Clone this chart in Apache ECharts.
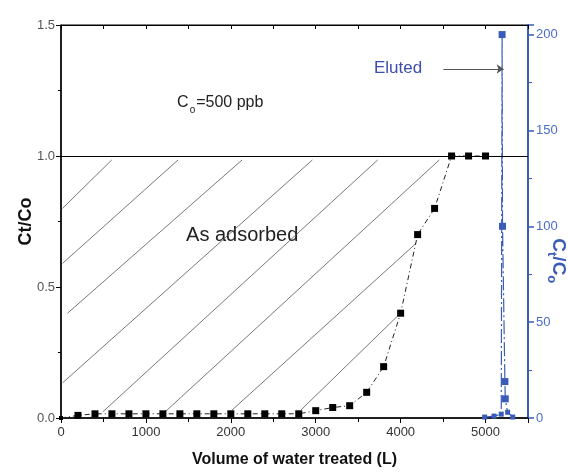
<!DOCTYPE html>
<html>
<head>
<meta charset="utf-8">
<script src="https://cdn.jsdelivr.net/npm/echarts@6/dist/echarts.min.js"></script>
<style>
  html, body { margin: 0; padding: 0; background: #fff; }
  #main { width: 568px; height: 476px; }
</style>
</head>
<body>
<div id="main"></div>
<script>
// 吸附穿透曲线 + 洗脱峰
var myChart = echarts.init(document.getElementById('main'));

var volume = [0, 200, 400, 600, 800, 1000, 1200, 1400, 1600, 1800, 2000, 2200, 2400, 2600, 2800,
  3000, 3200, 3400, 3600, 3800, 4000, 4200, 4400, 4600, 4800, 5000];
var ctco = [0, 0.01, 0.016, 0.016, 0.016, 0.016, 0.016, 0.016, 0.016, 0.016, 0.016, 0.016, 0.016, 0.016, 0.016,
  0.028, 0.04, 0.047, 0.098, 0.196, 0.40, 0.70, 0.80, 1.0, 1.0, 1.0];

// eluted peak (right axis)
var elutedVolume = [4990, 5100, 5185, 5195, 5200, 5228, 5232, 5260, 5320];
var elutedCtCo = [0.5, 1, 2, 200, 100, 19, 10, 3, 0.5];

// hatch lines of the "as adsorbed" area, [x1, y1, x2, y2]
var hatchLines = [
  [18, 0.80, 598, 0.985],
  [18, 0.59, 1379, 0.985],
  [77, 0.40, 2133, 0.985],
  [18, 0.134, 2961, 0.985],
  [491, 0.023, 3730, 0.985],
  [1225, 0.023, 4456, 0.985],
  [2014, 0.03, 4183, 0.667],
  [2825, 0.03, 3998, 0.40]
];

var xTicks = [0, 1000, 2000, 3000, 4000, 5000];
var leftTicks = [0, 0.5, 1.0, 1.5];
var rightTicks = [0, 50, 100, 150, 200];

var blue = '#3a5cb8';

var option = {
  animation: false,
  grid: { left: 61, right: 40, top: 25, bottom: 58, show: true, borderColor: '#000', borderWidth: 1 },
  xAxis: [{
    type: 'value', min: 0, max: 5500, interval: 1000,
    name: 'Volume of water treated (L)', nameLocation: 'middle', nameGap: 34,
    nameTextStyle: { fontFamily: 'Liberation Sans', fontSize: 16, fontWeight: 'bold', color: '#111' },
    axisLine: { show: true, onZero: false, lineStyle: { color: '#000', width: 1.5 } },
    axisTick: { show: true, length: 5, lineStyle: { color: '#000' } },
    minorTick: { show: true, splitNumber: 2, length: 4, lineStyle: { color: '#000' } },
    splitLine: { show: false },
    axisLabel: { fontFamily: 'Liberation Sans', fontSize: 13, color: '#333', margin: 8,
      showMaxLabel: false,
      formatter: function (v) { return xTicks.indexOf(v) >= 0 ? String(v) : ''; } }
  }, {
    type: 'value', min: 0, max: 5500, interval: 500, position: 'top',
    axisLine: { show: true, onZero: false, lineStyle: { color: '#000' } },
    axisTick: { show: true, inside: true, length: 4, lineStyle: { color: '#000' } },
    axisLabel: { show: false },
    splitLine: { show: false }
  }],
  yAxis: [{
    type: 'value', min: 0, max: 1.5, interval: 0.5,
    name: 'Ct/Co', nameLocation: 'middle', nameGap: 26, nameRotate: 90, nameMoveOverlap: false,
    nameTextStyle: { fontFamily: 'Liberation Sans', fontSize: 18, fontWeight: 'bold', color: '#111' },
    axisLine: { show: true, onZero: false, lineStyle: { color: '#000', width: 1.5 } },
    axisTick: { show: true, length: 5, lineStyle: { color: '#000' } },
    minorTick: { show: true, splitNumber: 2, length: 3, lineStyle: { color: '#000' } },
    splitLine: { show: false },
    axisLabel: { fontFamily: 'Liberation Sans', fontSize: 13, color: '#555', margin: 6,
      formatter: function (v) { return leftTicks.indexOf(v) >= 0 ? v.toFixed(1) : ''; } }
  }, {
    type: 'value', min: 0, max: 205, interval: 50, position: 'right',
    axisLine: { show: true, onZero: false, lineStyle: { color: blue, width: 2 } },
    axisTick: { show: true, length: 6, lineStyle: { color: blue, width: 1.5 } },
    minorTick: { show: true, splitNumber: 2, length: 4, lineStyle: { color: blue } },
    splitLine: { show: false },
    axisLabel: { fontFamily: 'Liberation Sans', fontSize: 13, color: '#4a6cc4', margin: 8,
      showMaxLabel: false,
      formatter: function (v) { return rightTicks.indexOf(v) >= 0 ? String(v) : ''; } }
  }],
  series: [{
    name: 'hatch',
    type: 'lines',
    coordinateSystem: 'cartesian2d',
    silent: true,
    z: 1,
    lineStyle: { color: '#555', width: 0.8, opacity: 1 },
    data: hatchLines.map(function (h) { return { coords: [[h[0], h[1]], [h[2], h[3]]] }; })
  }, {
    name: 'As adsorbed',
    type: 'line',
    z: 3,
    data: volume.map(function (v, i) { return [v, ctco[i]]; }),
    symbol: 'rect',
    symbolSize: function (d) { return d[0] === 0 ? 4 : 7; },
    itemStyle: { color: '#000' },
    lineStyle: { color: '#222', width: 1, type: [5, 3, 1, 3] },
    markLine: {
      silent: true, symbol: 'none', label: { show: false },
      lineStyle: { color: '#000', width: 1, type: 'solid' },
      data: [{ yAxis: 1.0 }]
    }
  }, {
    name: 'Eluted',
    type: 'line',
    yAxisIndex: 1,
    z: 4,
    data: elutedVolume.map(function (v, i) { return [v, elutedCtCo[i]]; }),
    symbol: 'rect',
    symbolSize: function (d) { return d[1] > 5 ? 7 : 5; },
    itemStyle: { color: blue },
    lineStyle: { color: blue, width: 1.2, type: [14, 3, 2, 3] }
  }, {
    name: 'arrow',
    type: 'lines',
    coordinateSystem: 'cartesian2d',
    silent: true,
    z: 5,
    symbol: ['none', 'arrow'],
    symbolSize: 7,
    lineStyle: { color: '#555', width: 1, opacity: 1 },
    data: [{ coords: [[4503, 1.332], [5213, 1.332]] }]
  }]
};
myChart.setOption(option);

// annotations placed by data coordinates
function px(x, y, axisIdx) {
  return myChart.convertToPixel({ xAxisIndex: 0, yAxisIndex: axisIdx || 0 }, [x, y]);
}
var pCo = px(1367, 1.202);
var pAds = px(1473, 0.698);
var pElu = px(3686, 1.336);
var pName = px(5500, 82, 1);

myChart.setOption({
  graphic: [{
    type: 'text', x: pCo[0], y: pCo[1],
    style: {
      text: '{c|C}{s|o}{c|=500 ppb}',
      verticalAlign: 'middle',
      rich: {
        c: { fontFamily: 'Liberation Sans', fontSize: 16, fill: '#222' },
        s: { fontFamily: 'Liberation Sans', fontSize: 10, fill: '#222', padding: [14, 1, 0, 1] }
      }
    }
  }, {
    type: 'text', x: pAds[0], y: pAds[1],
    style: { text: 'As adsorbed', fontFamily: 'Liberation Sans', fontSize: 20, fill: '#222', verticalAlign: 'middle' }
  }, {
    type: 'text', x: pElu[0], y: pElu[1],
    style: { text: 'Eluted', fontFamily: 'Liberation Sans', fontSize: 17, fill: '#3d4fa8', verticalAlign: 'middle' }
  }, {
    type: 'text', x: pName[0] + 30, y: pName[1], rotation: -Math.PI / 2,
    style: {
      text: '{c|C}{s|t}{c|/C}{s|o}',
      align: 'center', verticalAlign: 'middle',
      rich: {
        c: { fontFamily: 'Liberation Sans', fontSize: 19, fontWeight: 'bold', fill: blue },
        s: { fontFamily: 'Liberation Sans', fontSize: 13, fontWeight: 'bold', fill: blue, padding: [12, 0, 0, 0] }
      }
    }
  }]
});
</script>
</body>
</html>
